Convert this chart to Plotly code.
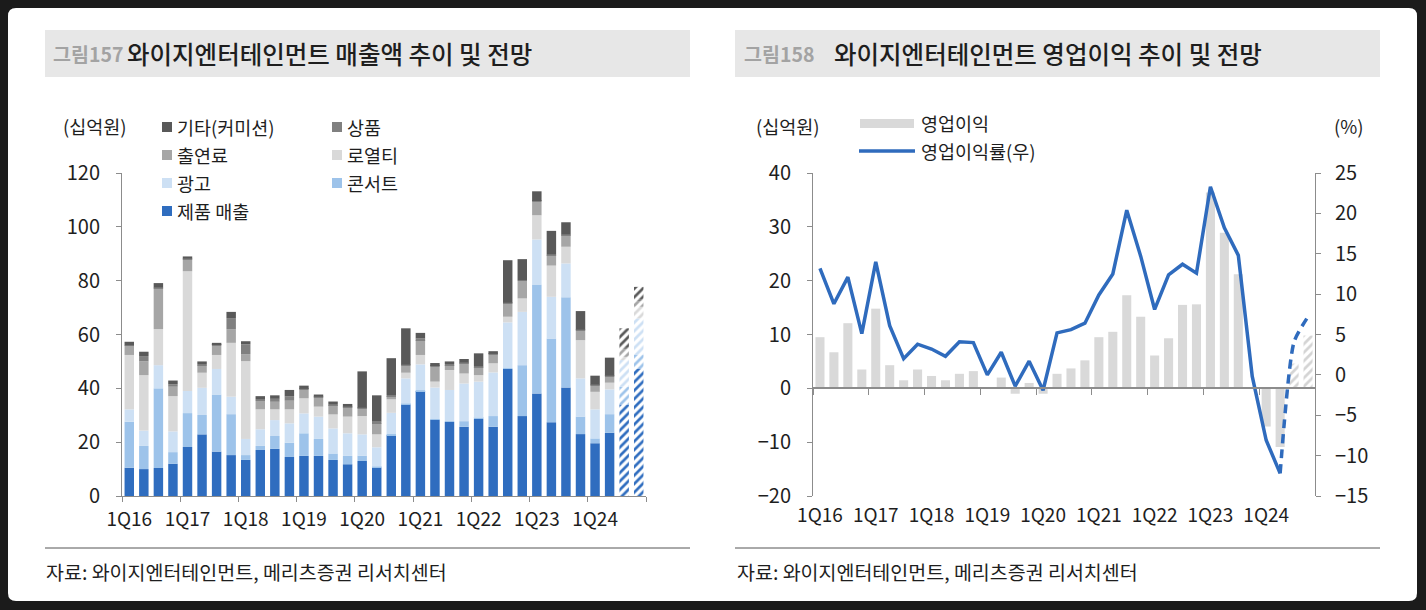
import plotly.graph_objects as go

W, H = 1426, 610

# ---------------- data ----------------
years = ["16", "17", "18", "19", "20", "21", "22", "23", "24"]
quarters = [f"{q}Q{y}" for y in years for q in range(1, 5)]
quarters[-2] = "3Q24E"
quarters[-1] = "4Q24E"
n_forecast = 2

# revenue components (십억원)
product = [10.5, 10.0, 10.4, 12.0, 18.2, 22.9, 16.5, 15.2, 13.4, 17.1, 17.5, 14.5,
           14.9, 14.9, 13.4, 11.8, 13.0, 10.6, 22.6, 34.0, 39.0, 28.3, 27.5, 25.7,
           28.7, 25.7, 47.2, 29.7, 38.1, 27.4, 40.3, 23.0, 19.6, 23.5, 34.0, 47.4]
concert = [17.1, 8.6, 29.6, 4.3, 12.6, 7.2, 21.2, 15.2, 1.8, 1.5, 4.8, 5.3,
           8.4, 6.3, 2.4, 3.1, 2.0, 0.3, 0.4, 0.3, 0.3, 0.3, 0.3, 2.1,
           0.3, 4.0, 0.3, 18.9, 40.5, 31.1, 33.5, 6.5, 1.8, 6.9, 6.6, 5.0]
advert = [4.6, 5.7, 8.6, 7.7, 8.2, 10.1, 9.5, 6.5, 6.0, 6.2, 5.9, 7.2,
          7.4, 8.3, 9.3, 8.4, 7.9, 7.2, 7.9, 9.4, 9.6, 11.7, 11.6, 14.0,
          13.5, 16.2, 17.0, 19.8, 16.7, 15.5, 12.6, 14.2, 10.8, 9.2, 9.9, 13.6]
royalty = [20.2, 20.6, 13.4, 13.1, 44.5, 5.6, 5.2, 20.0, 28.9, 7.4, 4.0, 5.2,
           5.6, 3.7, 5.2, 6.2, 6.8, 4.8, 5.0, 2.1, 3.5, 2.2, 7.4, 3.7,
           2.4, 3.4, 2.1, 5.0, 9.0, 11.6, 6.2, 14.2, 6.5, 2.5, 1.2, 4.3]
appearance = [3.4, 5.1, 15.1, 3.5, 4.4, 2.7, 3.4, 5.1, 2.6, 3.2, 2.8, 3.2,
              3.1, 3.4, 3.5, 3.4, 2.8, 4.1, 1.2, 2.6, 5.5, 5.5, 1.8, 3.8,
              2.9, 3.1, 4.9, 6.5, 5.0, 3.9, 4.3, 3.5, 2.3, 2.2, 3.1, 2.5]
goods = [0.2, 2.0, 0.4, 0.9, 0.3, 0.5, 0.4, 4.1, 3.6, 0.6, 1.1, 1.7,
         0.4, 0.3, 0.3, 0.3, 0.3, 0.6, 0.4, 0.4, 0.6, 0.3, 0.4, 0.3,
         0.4, 0.4, 0.3, 0.3, 0.3, 0.3, 0.3, 0.4, 0.4, 0.4, 0.4, 0.4]
other = [1.3, 1.6, 1.6, 1.4, 0.8, 1.0, 0.7, 2.3, 1.2, 1.1, 1.3, 2.3,
         1.2, 0.8, 1.0, 1.0, 13.5, 9.8, 13.7, 13.5, 2.1, 1.1, 1.0, 1.3,
         4.8, 1.0, 15.8, 7.8, 3.6, 8.7, 4.5, 6.9, 3.3, 6.7, 7.1, 4.5]

# operating profit (십억원) and margin (%)
op_profit = [9.5, 6.7, 12.1, 3.5, 14.8, 4.3, 1.5, 3.5, 2.3, 1.5, 2.7, 3.2,
             0.2, 2.0, -1.0, 1.0, -1.0, 2.7, 3.7, 5.2, 9.5, 10.5, 17.3, 13.3,
             6.1, 9.3, 15.5, 15.6, 36.4, 28.9, 21.2, 0.2, -7.1, -10.9, 4.6, 9.8]
op_margin = [13.2, 8.8, 12.1, 5.1, 14.0, 6.1, 2.0, 3.8, 3.2, 2.3, 4.1, 4.0,
             0.0, 2.8, -1.4, 1.7, -1.9, 5.2, 5.6, 6.4, 9.9, 12.5, 20.4, 14.7,
             8.1, 12.4, 13.7, 12.6, 23.3, 18.2, 14.8, -0.2, -8.1, -12.2, 4.1, 7.2]

rev_series = [
    ("제품 매출", product, "#2f6dbf"),
    ("콘서트", concert, "#9dc3ea"),
    ("광고", advert, "#cde0f4"),
    ("로열티", royalty, "#d9d9d9"),
    ("출연료", appearance, "#a6a6a6"),
    ("상품", goods, "#808080"),
    ("기타(커미션)", other, "#595959"),
]

# ---------------- helpers ----------------
FONT = "Noto Sans CJK KR, Noto Sans, sans-serif"
TXT = "#1e1e1e"
AX = "#8c8c8c"
N = len(quarters)
xs = list(range(N))
tick_idx = [i for i, q in enumerate(quarters) if q.startswith("1Q")]
tick_txt = [quarters[i] for i in tick_idx]
bounds = [i - 0.5 for i in range(0, N + 1, 4)]
fc = [i >= N - n_forecast for i in range(N)]


def px(x):
    return x / W


def py(y):
    return 1 - y / H


fig = go.Figure()

# ---------------- left chart ----------------
for name, vals, col in rev_series:
    fig.add_trace(go.Bar(
        x=xs, y=vals, name=name, xaxis="x", yaxis="y",
        marker=dict(color=col, line=dict(width=0),
                    pattern=dict(shape=["/" if f else "" for f in fc],
                                 fgcolor=col, bgcolor="white",
                                 fillmode="replace", size=6, solidity=0.45)),
        showlegend=False, hoverinfo="skip"))

# ---------------- right chart ----------------
fig.add_trace(go.Bar(
    x=xs, y=op_profit, name="영업이익", xaxis="x2", yaxis="y2",
    marker=dict(color="#d9d9d9", line=dict(width=0),
                pattern=dict(shape=["/" if f else "" for f in fc],
                             fgcolor="#d4d4d4", bgcolor="white",
                             fillmode="replace", size=6, solidity=0.45)),
    showlegend=False, hoverinfo="skip"))

split = N - n_forecast - 1
fig.add_trace(go.Scatter(
    x=xs[:split + 1], y=op_margin[:split + 1], xaxis="x2", yaxis="y3",
    mode="lines", line=dict(color="#2f6bbd", width=3.5),
    name="영업이익률(우)", showlegend=False, hoverinfo="skip"))
fig.add_trace(go.Scatter(
    x=xs[split:], y=op_margin[split:], xaxis="x2", yaxis="y3",
    mode="lines", line=dict(color="#2f6bbd", width=3.5, dash="9px,6px",
                            shape="spline", smoothing=0.6),
    showlegend=False, hoverinfo="skip"))
fig.add_trace(go.Scatter(x=[], y=[], xaxis="x3", yaxis="y2",
                         showlegend=False, hoverinfo="skip"))

ydom = [py(496), py(173)]
XTICKSZ = 19
YTICKSZ = 20
common_x = dict(range=[-0.5, N - 0.5], tickmode="array", tickvals=tick_idx,
                ticktext=tick_txt, ticks="", showgrid=False, zeroline=False,
                automargin=False,
                tickfont=dict(size=XTICKSZ, color=TXT, family=FONT), fixedrange=True)
common_y = dict(showline=True, linecolor=AX, linewidth=1, ticks="outside",
                ticklen=5, tickcolor=AX, showgrid=False, zeroline=False,
                automargin=False,
                tickfont=dict(size=YTICKSZ, color=TXT, family=FONT), fixedrange=True)

fig.update_layout(
    width=W, height=H,
    margin=dict(l=0, r=0, t=0, b=0, autoexpand=False),
    paper_bgcolor="#1b1b1b", plot_bgcolor="rgba(0,0,0,0)",
    font=dict(family=FONT, color=TXT),
    barmode="relative",
    bargap=0.35,
    xaxis=dict(domain=[px(122), px(646)], anchor="y", showline=True,
               linecolor=AX, linewidth=1, ticklabelstandoff=6,
               minor=dict(tickmode="array", tickvals=bounds, ticks="outside",
                          ticklen=5, tickcolor=AX, tickwidth=1),
               **common_x),
    yaxis=dict(domain=ydom, anchor="x", range=[0, 120], dtick=20,
               ticklabelstandoff=12, **common_y),
    xaxis2=dict(domain=[px(813), px(1315)], anchor="y2", showline=False,
                ticklabelstandoff=6, **common_x),
    xaxis3=dict(overlaying="x2", anchor="free", position=py(388),
                range=[-0.5, N - 0.5], showline=True, linecolor=AX, linewidth=1.5,
                showticklabels=False, ticks="", showgrid=False, zeroline=False,
                automargin=False,
                minor=dict(tickmode="array", tickvals=bounds, ticks="outside",
                           ticklen=6, tickcolor=AX, tickwidth=1),
                fixedrange=True),
    yaxis2=dict(domain=ydom, anchor="x2", range=[-20, 40], dtick=10,
                ticklabelstandoff=12, **common_y),
    yaxis3=dict(overlaying="y2", anchor="x2", side="right", range=[-15, 25],
                dtick=5, ticklabelstandoff=10, **common_y),
)

# ---------------- decoration ----------------
shapes = []
x0, x1, y0, y1, r = 8, 1417, 8, 601, 8
path = (f"M{px(x0 + r)},{py(y0)} L{px(x1 - r)},{py(y0)} Q{px(x1)},{py(y0)} {px(x1)},{py(y0 + r)} "
        f"L{px(x1)},{py(y1 - r)} Q{px(x1)},{py(y1)} {px(x1 - r)},{py(y1)} "
        f"L{px(x0 + r)},{py(y1)} Q{px(x0)},{py(y1)} {px(x0)},{py(y1 - r)} "
        f"L{px(x0)},{py(y0 + r)} Q{px(x0)},{py(y0)} {px(x0 + r)},{py(y0)} Z")
shapes.append(dict(type="path", xref="paper", yref="paper", path=path,
                   fillcolor="white", line=dict(width=0), layer="below"))
for bx0, bx1 in [(45, 690), (735, 1380)]:
    shapes.append(dict(type="rect", xref="paper", yref="paper",
                       x0=px(bx0), x1=px(bx1), y0=py(77), y1=py(30),
                       fillcolor="#e7e7e7", line=dict(width=0), layer="below"))
    shapes.append(dict(type="line", xref="paper", yref="paper",
                       x0=px(bx0), x1=px(bx1), y0=py(548), y1=py(548),
                       line=dict(color="#555555", width=1)))

annotations = []


def text(x, y, s, size=18, color=TXT, anchor="left", weight="normal"):
    annotations.append(dict(xref="paper", yref="paper", x=px(x), y=py(y),
                            text=s, showarrow=False, xanchor=anchor,
                            yanchor="middle",
                            font=dict(size=size, color=color, family=FONT,
                                      weight=weight)))


GRAY_T = "#a3a3a3"
text(51, 53, "그림157", 19.5, color=GRAY_T, weight="bold")
text(125, 53, "와이지엔터테인먼트 매출액 추이 및 전망", 24.5, weight=500)
text(742, 53, "그림158", 19.5, color=GRAY_T, weight="bold")
text(832, 53, "와이지엔터테인먼트 영업이익 추이 및 전망", 24.5, weight=500)
text(44, 571, "자료: 와이지엔터테인먼트, 메리츠증권 리서치센터", 19.5)
text(735, 571, "자료: 와이지엔터테인먼트, 메리츠증권 리서치센터", 19.5)
text(61, 126, "(십억원)", 18.5)
text(754, 126, "(십억원)", 18.5)
text(1332, 126, "(%)", 18.5)

# left legend (two columns, row-major)
legend_layout = [("기타(커미션)", 0, 0), ("상품", 1, 0), ("출연료", 0, 1), ("로열티", 1, 1),
                 ("광고", 0, 2), ("콘서트", 1, 2), ("제품 매출", 0, 3)]
colmap = {n: c for n, _, c in rev_series}
for name, col_i, row_i in legend_layout:
    lx = 162 if col_i == 0 else 332
    ly = 127 + row_i * 28
    shapes.append(dict(type="rect", xref="paper", yref="paper",
                       x0=px(lx), x1=px(lx + 10), y0=py(ly + 5), y1=py(ly - 5),
                       fillcolor=colmap[name], line=dict(width=0)))
    text(lx + 13, ly, name, 18.5)

# right legend
shapes.append(dict(type="rect", xref="paper", yref="paper",
                   x0=px(860), x1=px(914), y0=py(128), y1=py(119),
                   fillcolor="#d9d9d9", line=dict(width=0)))
shapes.append(dict(type="line", xref="paper", yref="paper",
                   x0=px(859), x1=px(915), y0=py(151), y1=py(151),
                   line=dict(color="#2f6bbd", width=3.5)))
text(919, 123, "영업이익", 18.5)
text(919, 151, "영업이익률(우)", 18.5)

fig.update_layout(shapes=shapes, annotations=annotations)

fig.write_html("out.html")
